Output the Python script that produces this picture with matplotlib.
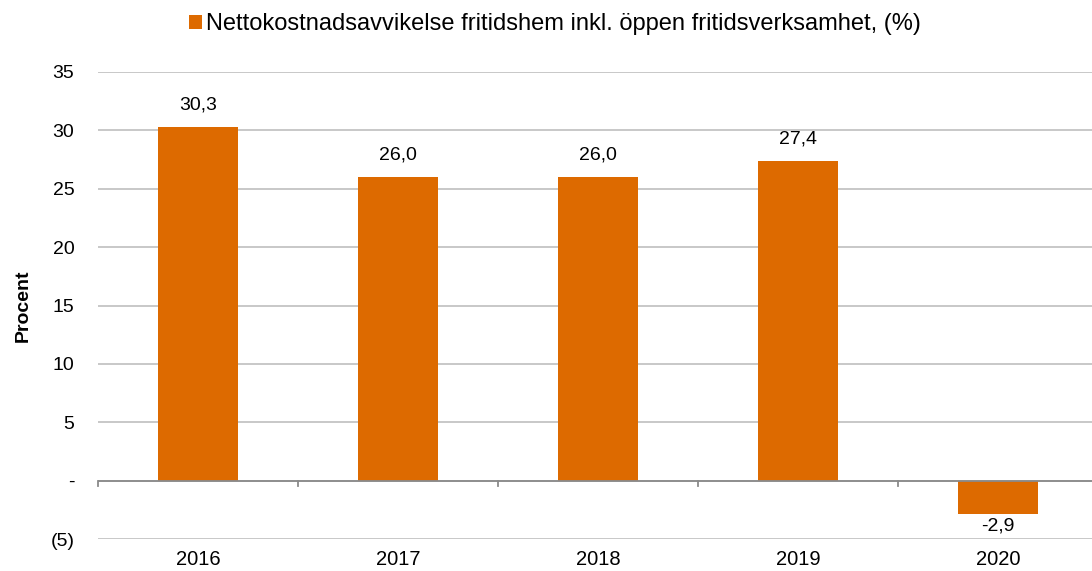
import matplotlib
matplotlib.use("Agg")
import matplotlib.pyplot as plt

years = ["2016", "2017", "2018", "2019", "2020"]
values = [30.3, 26.0, 26.0, 27.4, -2.9]
labels = ["30,3", "26,0", "26,0", "27,4", "-2,9"]
yticks = [-5, 0, 5, 10, 15, 20, 25, 30, 35]
yticklabels = ["(5)", "-", "5", "10", "15", "20", "25", "30", "35"]
series_name = "Nettokostnadsavvikelse fritidshem inkl. öppen fritidsverksamhet, (%)"

plt.rcParams['font.family'] = ['Liberation Sans', 'DejaVu Sans']
color = "#DD6A00"

fig = plt.figure(figsize=(10.92, 5.71), dpi=100)
ax = fig.add_axes([98/1092, 32/571, 1000/1092, 467/571])

x = list(range(len(years)))
bars = ax.bar(x, values, width=0.4, color=color, zorder=3, label=series_name)

ax.set_xlim(-0.5, 4.5)
ax.set_ylim(-5, 35)
ax.set_yticks(yticks)
ax.set_yticklabels(yticklabels, fontsize=14)
ax.set_xticks(x)
ax.set_xticklabels(years, fontsize=14.5)
ax.tick_params(axis='both', length=0, colors='black')
ax.tick_params(axis='y', pad=17)
ax.tick_params(axis='x', pad=8)

for s in ax.spines.values():
    s.set_visible(False)
ax.yaxis.grid(True, color="#c4c4c4", linewidth=1.3, zorder=0)
ax.set_axisbelow(True)
ax.axhline(0, color="#8a8a8a", linewidth=1.3, zorder=4)
for b in [-0.5, 0.5, 1.5, 2.5, 3.5]:
    ax.plot([b, b], [0, -0.5], color="#8a8a8a", linewidth=1.3, zorder=4, clip_on=False)

for xi, v, lab in zip(x, values, labels):
    if v >= 0:
        ax.annotate(lab, (xi, v), xytext=(0, 9.5), textcoords='offset points',
                    ha='center', va='bottom', fontsize=14)
    else:
        ax.annotate(lab, (xi, v), xytext=(0, -2), textcoords='offset points',
                    ha='center', va='top', fontsize=14)

ax.set_ylabel("Procent", fontsize=14, fontweight='bold')
ax.yaxis.set_label_coords(-0.066, 0.5)

fig.legend(handles=[bars], labels=[series_name], loc='center', bbox_to_anchor=(555/1092, 1 - 24/571),
           frameon=False, fontsize=17, handlelength=0.55, handleheight=0.55, handletextpad=0.15)

fig.savefig("out.png", dpi=100)
